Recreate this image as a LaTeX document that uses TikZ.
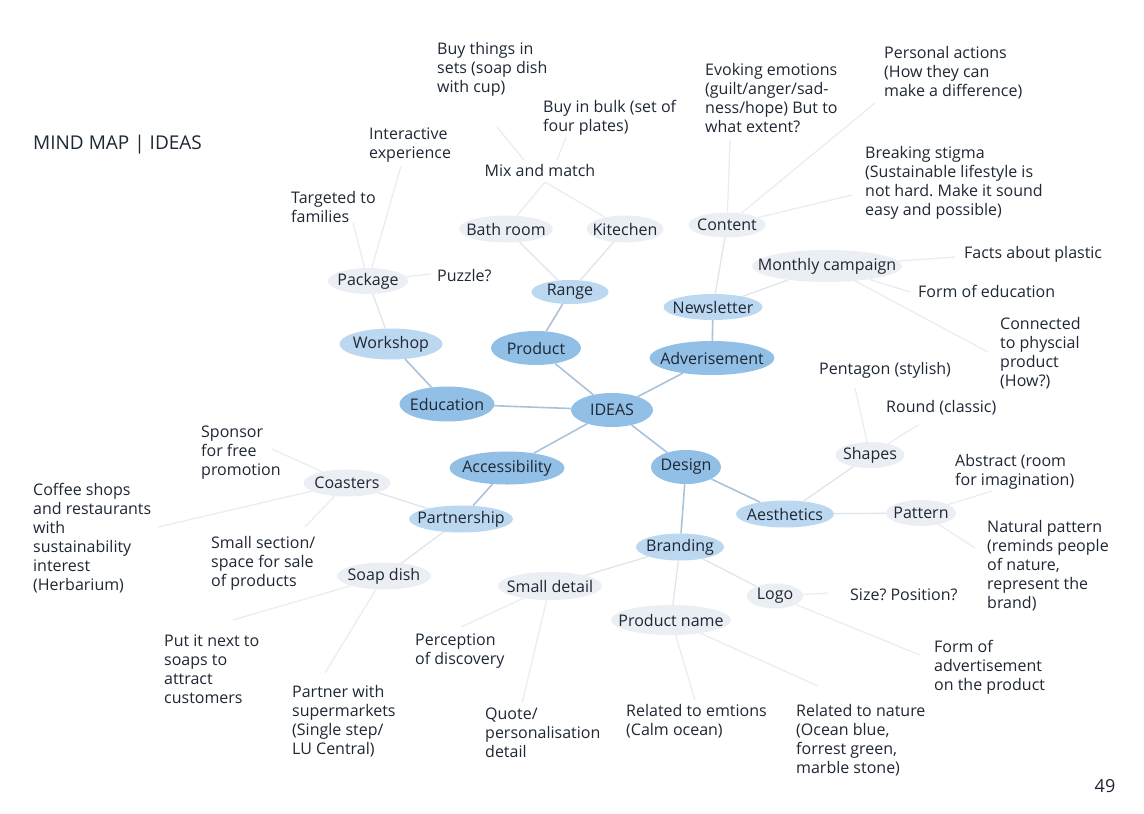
\documentclass[tikz,border=0pt]{standalone}
\usepackage{fontspec}
\setmainfont{Open Sans}
\usetikzlibrary{shapes.geometric}
\definecolor{lvA}{HTML}{92BFE6}
\definecolor{lvB}{HTML}{BCD8F0}
\definecolor{lvC}{HTML}{EBEEF3}
\definecolor{lnA}{HTML}{A9C3DA}
\definecolor{lnB}{HTML}{E0E5EA}
\definecolor{lnC}{HTML}{EAEDF0}
\definecolor{ink}{HTML}{1E2734}
\newcommand{\zw}[1]{\makebox[0pt]{#1}}
\frenchspacing
\begin{document}
\begin{tikzpicture}[x=1pt,y=-1pt,
  font=\fontsize{16}{19}\selectfont, text=ink,
  bub/.style={ellipse, inner sep=0pt},
  one/.style={bub, fill=lvA},
  two/.style={bub, fill=lvB},
  three/.style={bub, fill=lvC},
  txt/.style={anchor=north west, align=left, inner sep=0pt},
  mainln/.style={draw=lnA, line width=1.6pt},
  subln/.style={draw=lnB, line width=1.3pt},
  leafln/.style={draw=lnC, line width=1.3pt}]
\useasboundingbox (0,0) rectangle (1144,814);

% title and page number
\node[anchor=west, inner sep=0pt, font=\fontsize{19}{22}\selectfont] (title) at (33,145) {MIND MAP | IDEAS};
\node[inner sep=0pt, font=\fontsize{18}{20}\selectfont] (page) at (1105,786) {49};

% free ends of connectors
\coordinate (c-targ) at (353,223);
\coordinate (c-inter) at (401,166);
\coordinate (c-puzzle) at (431,274);
\coordinate (mixapex) at (545,182);
\coordinate (mixl) at (524,160);
\coordinate (mixr) at (557,160);
\coordinate (c-buyset) at (497,127);
\coordinate (c-bulk) at (566,137);
\coordinate (c-evoke) at (730,140);
\coordinate (c-personal) at (875,103);
\coordinate (c-breaking) at (852,195);
\coordinate (c-facts) at (955,257);
\coordinate (c-formedu) at (910,292);
\coordinate (c-connected) at (988,352);
\coordinate (c-pentagon) at (855,388);
\coordinate (c-round) at (918,425);
\coordinate (c-abstract) at (992,491);
\coordinate (c-natural) at (975,548);
\coordinate (c-size) at (828,593);
\coordinate (c-formadv) at (920,655);
\coordinate (c-relemo) at (695,700);
\coordinate (c-relnat) at (818,686);
\coordinate (c-percep) at (461,627);
\coordinate (c-quote) at (522,703);
\coordinate (c-partner) at (325,673);
\coordinate (c-putit) at (233,620);
\coordinate (c-smallsec) at (305,527);
\coordinate (c-coffee) at (158,527);
\coordinate (c-sponsor) at (272,449);

% leaf texts
\node[txt] (buyset) at (437,42) {Buy things in\\sets (soap dish\\with cup)};
\node[txt] (bulk) at (543,100) {Buy in bulk (set of\\four plates)};
\node[txt] (inter) at (369,128) {Interactive\\experience};
\node[inner sep=0pt] (mix) at (540,170) {Mix and match};
\node[txt] (targ) at (291,191) {Targeted to\\families};
\node[txt] (puzzle) at (437,269) {Puzzle?};
\node[txt] (evoke) at (705,63) {Evoking emotions\\(guilt/anger/sad-\\ness/hope) But to\\what extent?};
\node[txt] (personal) at (884,46) {Personal actions\\(How they can\\make a difference)};
\node[txt] (breaking) at (865,146) {Breaking stigma\\(Sustainable lifestyle is\\not hard. Make it sound\\easy and possible)};
\node[txt] (facts) at (964,246) {Facts about plastic};
\node[txt] (formedu) at (918,285) {Form of education};
\node[txt] (connected) at (1000,317) {Connected\\to physcial\\product\\(How?)};
\node[txt] (pentagon) at (819,362) {Pentagon (stylish)};
\node[txt] (round) at (886,400) {Round (classic)};
\node[txt] (abstract) at (955,454) {Abstract (room\\for imagination)};
\node[txt] (natural) at (987,520) {Natural pattern\\(reminds people\\of nature,\\represent the\\brand)};
\node[txt] (size) at (850,589) {Size? Position?};
\node[txt] (formadv) at (934,640) {Form of\\advertisement\\on the product};
\node[txt] (relnat) at (796,704) {Related to nature\\(Ocean blue,\\forrest green,\\marble stone)};
\node[txt] (relemo) at (626,704) {Related to emtions\\(Calm ocean)};
\node[txt] (quote) at (485,708) {Quote/\\personalisation\\detail};
\node[txt] (percep) at (415,634) {Perception\\of discovery};
\node[txt] (partner) at (292,685) {Partner with\\supermarkets\\(Single step/\\LU Central)};
\node[txt] (putit) at (164,635) {Put it next to\\soaps to\\attract\\customers};
\node[txt] (smallsec) at (211,536) {Small section/\\space for sale\\of products};
\node[txt] (coffee) at (33,483) {Coffee shops\\and restaurants\\with\\sustainability\\interest\\(Herbarium)};
\node[txt] (sponsor) at (201,426) {Sponsor\\for free\\promotion};

% level 1
\node[one, minimum width=82pt, minimum height=34pt] (ideas) at (612,410) {\zw{IDEAS}};
\node[one, minimum width=95pt, minimum height=35pt] (edu) at (447,404) {\zw{Education}};
\node[one, minimum width=90pt, minimum height=34pt] (prod) at (536,348) {\zw{Product}};
\node[one, minimum width=125pt, minimum height=34pt] (adv) at (712,358) {\zw{Adverisement}};
\node[one, minimum width=115pt, minimum height=33pt] (acc) at (507,468) {\zw{Accessibility}};
\node[one, minimum width=70pt, minimum height=34pt] (des) at (686,467) {\zw{Design}};
% level 2
\node[two, minimum width=103pt, minimum height=31pt] (work) at (391,344) {\zw{Workshop}};
\node[two, minimum width=77pt, minimum height=24pt] (range) at (570,292) {\zw{Range}};
\node[two, minimum width=99pt, minimum height=26pt] (news) at (713,307) {\zw{Newsletter}};
\node[two, minimum width=104pt, minimum height=27pt] (part) at (461,519) {\zw{Partnership}};
\node[two, minimum width=98pt, minimum height=27pt] (aes) at (785,514) {\zw{Aesthetics}};
\node[two, minimum width=88pt, minimum height=27pt] (brand) at (680,547) {\zw{Branding}};
% level 3
\node[three, minimum width=80pt, minimum height=26pt] (pkg) at (368,281) {\zw{Package}};
\node[three, minimum width=94pt, minimum height=27pt] (bath) at (506,229) {\zw{Bath room}};
\node[three, minimum width=77pt, minimum height=27pt] (kit) at (625,229) {\zw{Kitechen}};
\node[three, minimum width=77pt, minimum height=25pt] (cont) at (727,225) {\zw{Content}};
\node[three, minimum width=150pt, minimum height=32pt] (month) at (827,266) {\zw{Monthly campaign}};
\node[three, minimum width=87pt, minimum height=27pt] (coast) at (347,483) {\zw{Coasters}};
\node[three, minimum width=94pt, minimum height=27pt] (soap) at (384,576) {\zw{Soap dish}};
\node[three, minimum width=69pt, minimum height=26pt] (shapes) at (870,455) {\zw{Shapes}};
\node[three, minimum width=70pt, minimum height=26pt] (pattern) at (921,513) {\zw{Pattern}};
\node[three, minimum width=56pt, minimum height=25pt] (logo) at (775,596) {\zw{Logo}};
\node[three, minimum width=104pt, minimum height=28pt] (small) at (550,586) {\zw{Small detail}};
\node[three, minimum width=120pt, minimum height=30pt] (pname) at (671,620) {\zw{Product name}};

% main connectors
\draw[mainln] (ideas) -- (edu);
\draw[mainln] (ideas) -- (prod);
\draw[mainln] (ideas) -- (adv);
\draw[mainln] (ideas) -- (acc);
\draw[mainln] (ideas) -- (des);
\draw[mainln] (edu) -- (work);
\draw[mainln] (prod) -- (range);
\draw[mainln] (adv) -- (news);
\draw[mainln] (acc) -- (part);
\draw[mainln] (des) -- (aes);
\draw[mainln] (des) -- (brand);
% level 2 to 3
\draw[subln] (work) -- (pkg);
\draw[subln] (range) -- (bath);
\draw[subln] (range) -- (kit);
\draw[subln] (news) -- (cont);
\draw[subln] (news) -- (month);
\draw[subln] (part) -- (coast);
\draw[subln] (part) -- (soap);
\draw[subln] (aes) -- (shapes);
\draw[subln] (aes) -- (pattern);
\draw[subln] (brand) -- (small);
\draw[subln] (brand) -- (pname);
\draw[subln] (brand) -- (logo);
% leaves
\draw[leafln] (pkg) -- (c-targ);
\draw[leafln] (pkg) -- (c-inter);
\draw[leafln] (pkg) -- (c-puzzle);
\draw[leafln] (bath) -- (mixapex);
\draw[leafln] (kit) -- (mixapex);
\draw[leafln] (mixl) -- (c-buyset);
\draw[leafln] (mixr) -- (c-bulk);
\draw[leafln] (cont) -- (c-evoke);
\draw[leafln] (cont) -- (c-personal);
\draw[leafln] (cont) -- (c-breaking);
\draw[leafln] (month) -- (c-facts);
\draw[leafln] (month) -- (c-formedu);
\draw[leafln] (month) -- (c-connected);
\draw[leafln] (shapes) -- (c-pentagon);
\draw[leafln] (shapes) -- (c-round);
\draw[leafln] (pattern) -- (c-abstract);
\draw[leafln] (pattern) -- (c-natural);
\draw[leafln] (logo) -- (c-size);
\draw[leafln] (logo) -- (c-formadv);
\draw[leafln] (pname) -- (c-relemo);
\draw[leafln] (pname) -- (c-relnat);
\draw[leafln] (small) -- (c-percep);
\draw[leafln] (small) -- (c-quote);
\draw[leafln] (soap) -- (c-partner);
\draw[leafln] (soap) -- (c-putit);
\draw[leafln] (coast) -- (c-smallsec);
\draw[leafln] (coast) -- (c-coffee);
\draw[leafln] (coast) -- (c-sponsor);
\end{tikzpicture}
\end{document}
